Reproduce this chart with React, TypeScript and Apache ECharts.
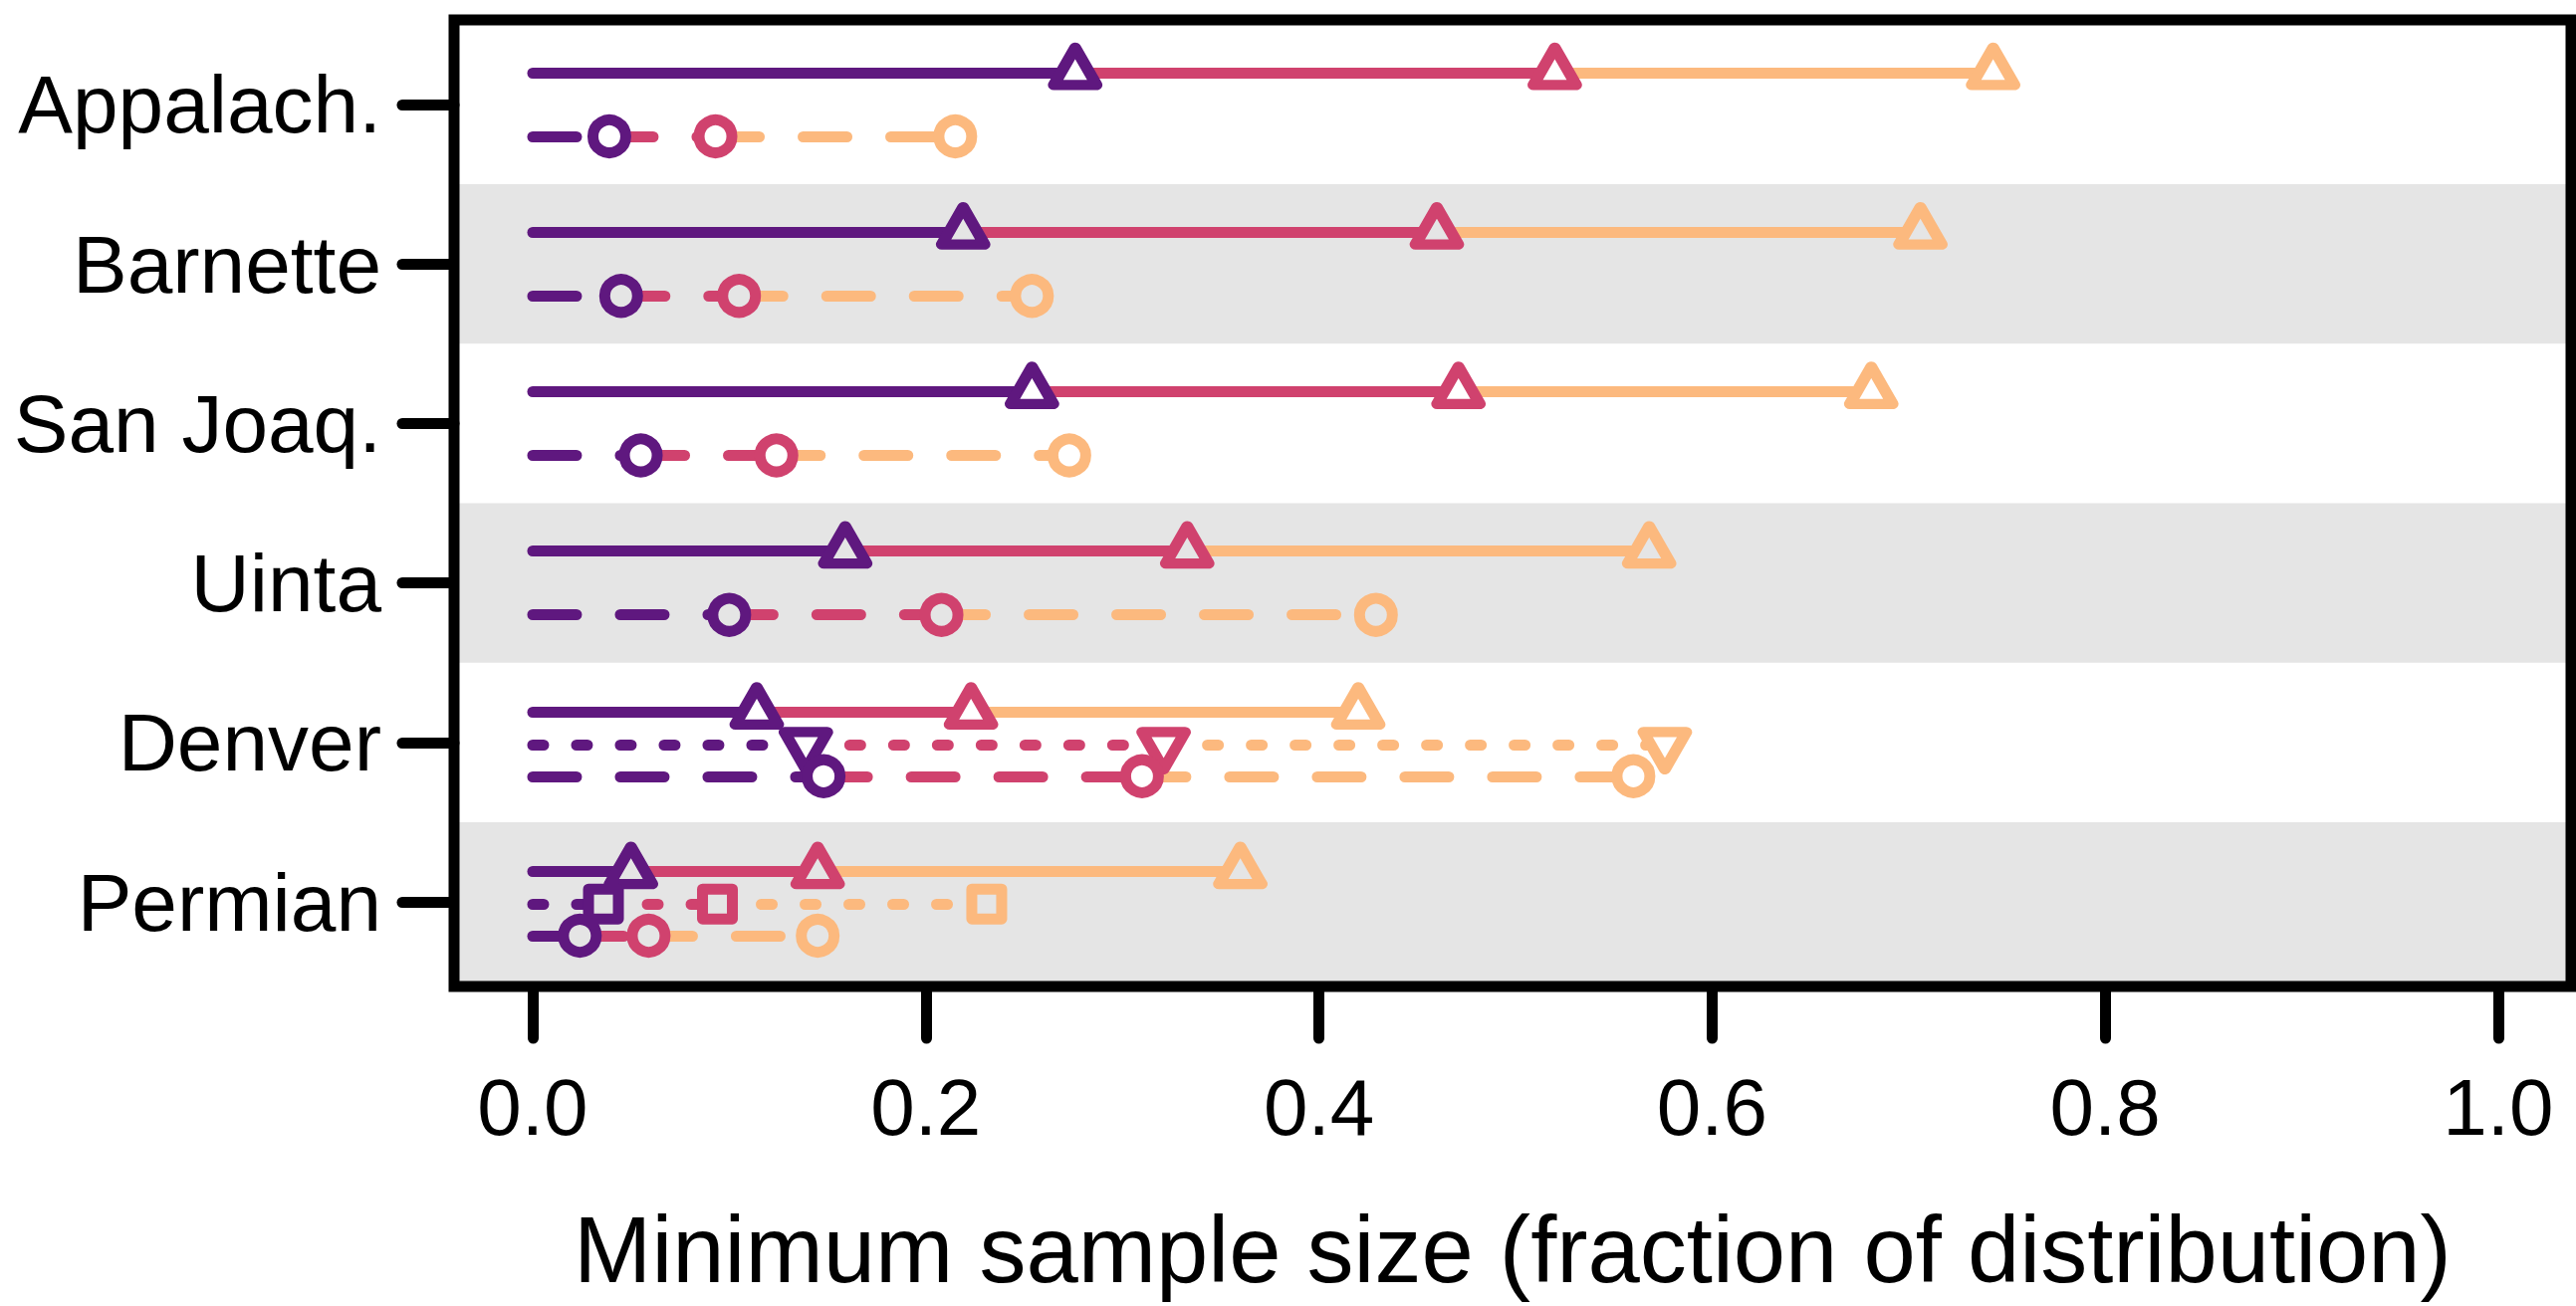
import React, { useEffect, useRef } from "react";
import * as echarts from "echarts";

// ---- data ----
const categories = ["Appalach.", "Barnette", "San Joaq.", "Uinta", "Denver", "Permian"];
const xTicks = [0, 0.2, 0.4, 0.6, 0.8, 1.0];
const levelColors = ["#5F187F", "#D0426E", "#FCB97E"];
const shadedRows = [2, 4, 6];
const xTitle = "Minimum sample size (fraction of distribution)";

// thresholds per basin: [purple, pink, orange]
const solidTriangle = [
  [0.276, 0.52, 0.743],
  [0.219, 0.46, 0.706],
  [0.254, 0.471, 0.681],
  [0.159, 0.333, 0.568],
  [0.114, 0.223, 0.42],
  [0.05, 0.145, 0.36],
];
const dottedDownTriangle = [null, null, null, null, [0.139, 0.321, 0.576], null];
const dottedSquare = [null, null, null, null, null, [0.036, 0.094, 0.231]];
const dashedCircle = [
  [0.039, 0.093, 0.215],
  [0.045, 0.105, 0.254],
  [0.055, 0.124, 0.273],
  [0.1, 0.208, 0.429],
  [0.148, 0.31, 0.56],
  [0.024, 0.059, 0.145],
];

const FONT = "'Liberation Sans', Arial, Helvetica, sans-serif";
const LW = 11;

type Metric = {
  values: (number[] | null)[];
  dash: any;
  symbol: string;
  size: any;
  offset: number[];
  rotate: number;
};

const metrics: Metric[] = [
  { values: solidTriangle, dash: "solid", symbol: "triangle", size: [43, 37.5], offset: [0, -6.25], rotate: 0 },
  { values: dottedDownTriangle, dash: [11, 33], symbol: "triangle", size: [43, 37.5], offset: [0, 6.25], rotate: 180 },
  { values: dottedSquare, dash: [11, 33], symbol: "rect", size: 30, offset: [0, 0], rotate: 0 },
  { values: dashedCircle, dash: [44, 44], symbol: "circle", size: 33, offset: [0, 0], rotate: 0 },
];

export default function App() {
  const ref = useRef<HTMLDivElement>(null);
  useEffect(() => {
    const chart = echarts.init(ref.current!, null, { renderer: "svg" });

    const segs: any[] = [];
    const marks: any[] = [];
    categories.forEach((_, r) => {
      const row = r + 1;
      const active = metrics.filter((m) => m.values[r] != null);
      const offs = active.length === 3 ? [-0.19, 0.013, 0.212] : [-0.2, 0.2];
      const fill = shadedRows.includes(row) ? "#E5E5E5" : "#FFFFFF";
      active.forEach((m, k) => {
        const y = row + offs[k];
        const vals = m.values[r] as number[];
        let start = 0;
        vals.forEach((v, c) => {
          segs.push({
            coords: [
              [start, y],
              [v, y],
            ],
            lineStyle: { color: levelColors[c], width: LW, type: m.dash, cap: "round", opacity: 1 },
          });
          start = v;
        });
      });
      active.forEach((m, k) => {
        const y = row + offs[k];
        const vals = m.values[r] as number[];
        vals.forEach((v, c) => {
          marks.push({
            value: [v, y],
            symbol: m.symbol,
            symbolSize: m.size,
            symbolOffset: m.offset,
            symbolRotate: m.rotate,
            itemStyle: {
              color: fill,
              borderColor: levelColors[c],
              borderWidth: LW,
              borderJoin: "round",
              opacity: 1,
            },
          });
        });
      });
    });

    const option: any = {
      animation: false,
      backgroundColor: "#FFFFFF",
      grid: {
        left: 456,
        top: 20,
        width: 2126,
        height: 971,
        show: true,
        z: 10,
        borderColor: "#000000",
        borderWidth: 11,
        backgroundColor: "transparent",
      },
      xAxis: {
        type: "value",
        min: -0.04,
        max: 1.037,
        axisLine: { show: false, onZero: false },
        splitLine: { show: false },
        axisTick: {
          show: true,
          customValues: xTicks,
          length: 52,
          lineStyle: { color: "#000", width: LW, cap: "round" },
        },
        axisLabel: {
          customValues: xTicks,
          formatter: (v: number) => v.toFixed(1),
          fontSize: 80,
          color: "#000",
          fontFamily: FONT,
          margin: 121,
          verticalAlign: "middle",
        },
        name: xTitle,
        nameLocation: "middle",
        nameGap: 264,
        nameTextStyle: { fontSize: 94, color: "#000", fontFamily: FONT, verticalAlign: "middle" },
      },
      yAxis: {
        type: "value",
        min: 0.47,
        max: 6.53,
        inverse: true,
        axisLine: { show: false, onZero: false },
        splitLine: { show: false },
        axisTick: {
          show: true,
          customValues: [1, 2, 3, 4, 5, 6],
          length: 52,
          lineStyle: { color: "#000", width: LW, cap: "round" },
        },
        axisLabel: {
          customValues: [1, 2, 3, 4, 5, 6],
          formatter: (v: number) => categories[Math.round(v) - 1] ?? "",
          fontSize: 82,
          color: "#000",
          fontFamily: FONT,
          margin: 73,
        },
      },
      series: [
        {
          type: "lines",
          coordinateSystem: "cartesian2d",
          polyline: false,
          silent: true,
          z: 2,
          data: segs,
          markArea: {
            silent: true,
            itemStyle: { color: "#E5E5E5", opacity: 1, borderWidth: 0 },
            label: { show: false },
            data: shadedRows.map((r) => [{ yAxis: r - 0.5 }, { yAxis: r + 0.5 }]),
          },
        },
        {
          type: "scatter",
          silent: true,
          z: 3,
          data: marks,
        },
      ],
    };
    chart.setOption(option);
    return () => chart.dispose();
  }, []);
  return (
    <div
      ref={ref}
      style={{ position: "fixed", left: 0, top: 0, width: 2587, height: 1312 }}
    />
  );
}
